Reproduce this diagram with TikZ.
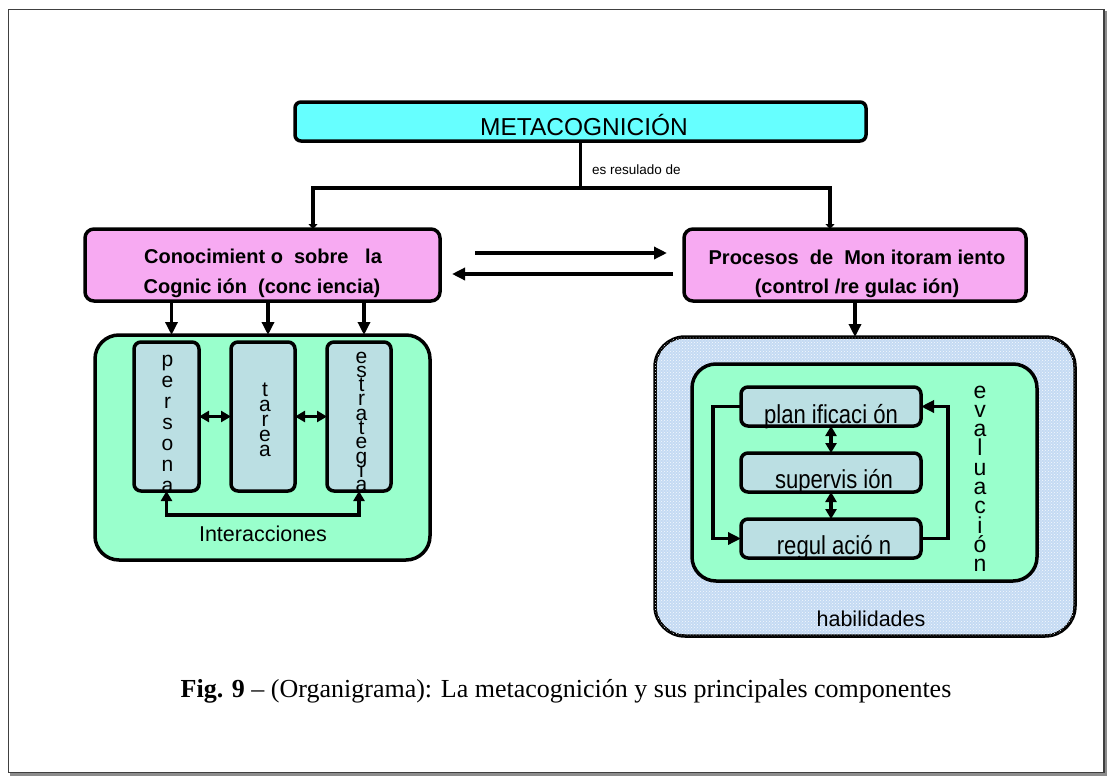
\documentclass[tikz,border=0pt]{standalone}
\usepackage{fontspec}
\setmainfont{Liberation Serif}
\setsansfont{Liberation Sans}
\newfontfamily\narrowsans{Liberation Sans}[FakeStretch=0.85]
\usetikzlibrary{arrows.meta,calc,patterns}

\definecolor{metacyan}{HTML}{66FFFF}
\definecolor{procpink}{HTML}{F7AAF2}
\definecolor{mint}{HTML}{99FFCC}
\definecolor{slatebox}{HTML}{BBDFE3}
\definecolor{skytex}{HTML}{C4DAF3}

\tikzset{
  boxbase/.style={draw=black, line width=3.5pt, inner sep=0pt, outer sep=0pt},
  metabox/.style={boxbase, fill=metacyan, rounded corners=6pt},
  pinkbox/.style={boxbase, fill=procpink, rounded corners=9pt},
  mintbox/.style={boxbase, fill=mint, rounded corners=24pt},
  skybox/.style={boxbase, fill=skytex, rounded corners=30pt,
    postaction={pattern=crosshatch dots, pattern color=white!85!skytex}},
  itembox/.style={boxbase, fill=slatebox, rounded corners=7pt},
  conn/.style={draw=black, line width=3.5pt},
  tip/.style={-{Triangle[length=13pt,width=12pt]}},
  smalltip/.style={-{Triangle[length=5pt,width=9pt]}},
  bothtips/.style={{Triangle[length=10pt,width=11pt]}-{Triangle[length=10pt,width=11pt]}},
  boldlabel/.style={anchor=base, inner sep=0pt, font=\sffamily\bfseries\fontsize{20}{24}\selectfont},
  narrowlabel/.style={anchor=base, inner sep=0pt, font=\narrowsans\fontsize{26}{30}\selectfont},
  plainlabel/.style={anchor=base, inner sep=0pt, font=\sffamily\fontsize{21.5}{24}\selectfont},
  vletter/.style={anchor=base, inner sep=0pt, font=\sffamily\fontsize{21}{21}\selectfont},
}

\begin{document}
\begin{tikzpicture}[x=1pt, y=-1pt]
\useasboundingbox (0,0) rectangle (1110,776);

% page frame with its shadow
\draw[line width=3pt, black!45] (1105.5,11) -- (1105.5,774.5) -- (10,774.5);
\draw[line width=1.2pt, black!75] (8.5,9.5) rectangle (1104,772.5);

% ---- top level
\node[metabox, minimum width=571pt, minimum height=39pt] (meta) at (580.5,121.5) {};
\node[anchor=base, inner sep=0pt, font=\sffamily\fontsize{24.5}{28}\selectfont] (metatext) at (584,135) {METACOGNICIÓN};

\node[pinkbox, minimum width=355pt, minimum height=72pt] (cono) at (262.5,265) {};
\node[boldlabel] (conoA) at (263,263) {Conocimient o\ \ sobre\ \ \ la};
\node[boldlabel] (conoB) at (262,293) {Cognic ión\ \ (conc iencia)};

\node[pinkbox, minimum width=342pt, minimum height=72pt] (proc) at (855,265) {};
\node[boldlabel] (procA) at (857,264) {Procesos\ \ de\ \ Mon itoram iento};
\node[boldlabel] (procB) at (857,293) {(control /re gulac ión)};

% tree from the top box
\coordinate (split) at (580.5,188);
\draw[conn] (meta.south) -- (split);
\node[anchor=base west, inner sep=0pt, font=\sffamily\fontsize{13.5}{16}\selectfont] (esres) at (592,174) {es resulado de};
\draw[conn, smalltip] (split) -| ($(cono.north)+(50.5,0)$);
\draw[conn, smalltip] (split) -| ($(proc.north)+(-25,0)$);

% the two processes feed each other
\draw[conn, tip] ($(cono.east)+(35,-12)$) -- ($(proc.west)+(-17,-12)$);
\draw[conn, tip] ($(proc.west)+(-11,9)$) -- ($(cono.east)+(12,9)$);

% ---- left branch: knowledge variables
\node[mintbox, minimum width=335pt, minimum height=225pt] (know) at (262.5,447.5) {};
\node[itembox, minimum width=65pt, minimum height=149pt] (persona) at (166.5,416.5) {};
\node[itembox, minimum width=64pt, minimum height=149pt] (tarea) at (263,416.5) {};
\node[itembox, minimum width=64pt, minimum height=149pt] (estrategia) at (359,416.5) {};

\foreach \c [count=\i] in {p,e,r,s,o,n,a}
  \node[vletter] (persona-\i) at (167.5, 366+21.1*\i-21.1) {\c};
\foreach \c [count=\i] in {t,a,r,e,a}
  \node[vletter] (tarea-\i) at (265, 396+15.2*\i-15.2) {\c};
\foreach \c [count=\i] in {e,s,t,r,a,t,e,g,i,a}
  \node[vletter] (estrategia-\i) at (361.5, 363+14.3*\i-14.3) {\c};

\foreach \b in {persona,tarea,estrategia}
  \draw[conn, tip] ($(cono.south -| \b.north)+(5,0)$) -- ($(know.north -| \b.north)+(5,0)$);

\draw[conn, bothtips] (persona.east) -- (tarea.west);
\draw[conn, bothtips] (tarea.east) -- (estrategia.west);
\draw[conn, bothtips] (persona.south) -- ++(0,24) -| (estrategia.south);
\node[plainlabel] (interac) at (263,541) {Interacciones};

% ---- right branch: skills
\draw[conn, tip] (proc.south) -- ($(proc.south)+(0,36)$) coordinate (skilltop);
\node[skybox, minimum width=420pt, minimum height=299pt] (skills) at (865,486.5) {};
\node[mintbox, minimum width=345pt, minimum height=217pt] (evalbox) at (864.5,472.5) {};

\node[itembox, minimum width=180pt, minimum height=39pt] (plan) at (831,406.5) {};
\node[itembox, minimum width=180pt, minimum height=39pt] (superv) at (831,472.5) {};
\node[itembox, minimum width=180pt, minimum height=39pt] (regul) at (831,538.5) {};
\node[narrowlabel] (planT) at (831,423) {plan ificaci ón};
\node[narrowlabel] (supervT) at (834,488) {supervis ión};
\node[narrowlabel] (regulT) at (834,554) {regul ació n};

\draw[conn, bothtips] (plan.south) -- (superv.north);
\draw[conn, bothtips] (superv.south) -- (regul.north);
\draw[conn, tip] (plan.west) -- ++(-28,0) |- (regul.west);
\draw[conn, tip] (regul.east) -- ++(27,0) |- (plan.east);

\foreach \c [count=\i] in {e,v,a,l,u,a,c,i,ó,n}
  \node[vletter, font=\sffamily\fontsize{23}{23}\selectfont] (eval-\i) at (980, 398+19.3*\i-19.3) {\c};

\node[plainlabel] (habil) at (871,626) {habilidades};

% ---- caption
\node[anchor=base, inner sep=0pt, font=\rmfamily\fontsize{26}{30}\selectfont] (caption) at (566,697)
  {\textbf{Fig. 9} – (Organigrama): La metacognición y sus principales componentes};
\end{tikzpicture}
\end{document}
